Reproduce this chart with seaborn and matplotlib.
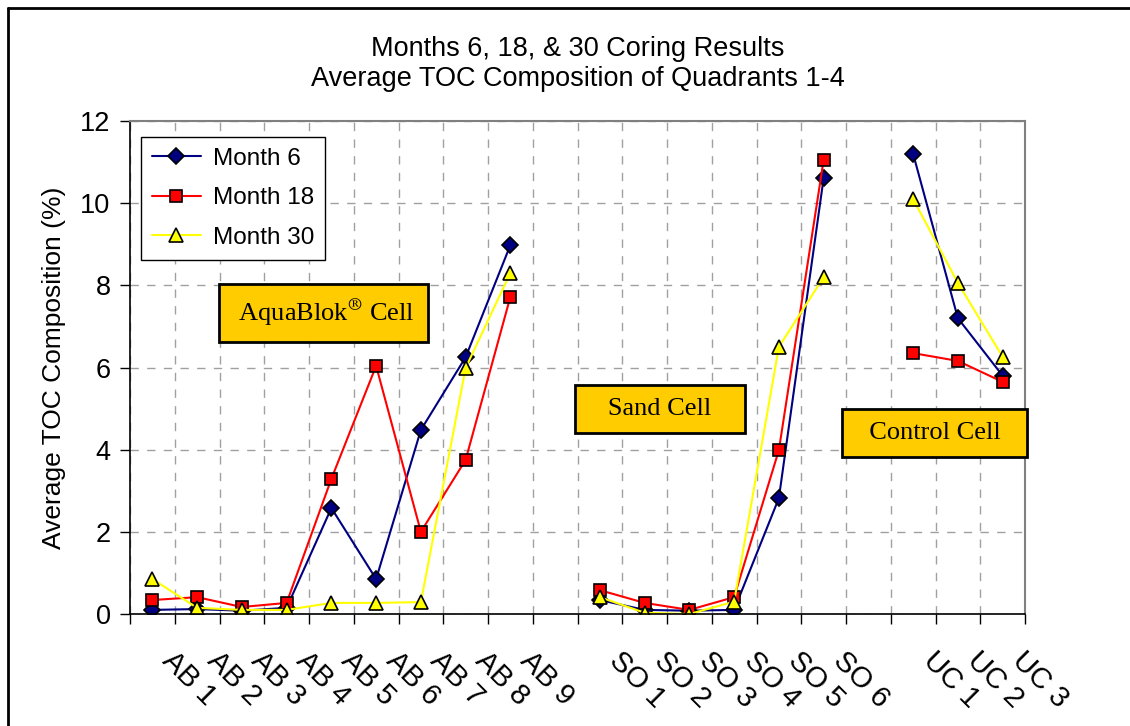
# Months 6, 18 & 30 coring results - average TOC per site
import numpy as np
import pandas as pd
import matplotlib
matplotlib.use("Agg")
import matplotlib.pyplot as plt
import seaborn as sns
from matplotlib.lines import Line2D
from matplotlib.transforms import ScaledTranslation

nan = np.nan

# Site labels (blank slots separate the three cells)
sites = ["AB 1", "AB 2", "AB 3", "AB 4", "AB 5", "AB 6", "AB 7", "AB 8", "AB 9", "",
         "SO 1", "SO 2", "SO 3", "SO 4", "SO 5", "SO 6", "",
         "UC 1", "UC 2", "UC 3"]

month_6 = [0.10, 0.12, 0.08, 0.15, 2.58, 0.85, 4.48, 6.25, 8.98, nan,
           0.34, 0.10, 0.08, 0.10, 2.82, 10.61, nan,
           11.20, 7.20, 5.80]
month_18 = [0.34, 0.41, 0.17, 0.27, 3.29, 6.04, 2.00, 3.75, 7.72, nan,
            0.58, 0.27, 0.10, 0.41, 3.99, 11.05, nan,
            6.35, 6.16, 5.65]
month_30 = [0.85, 0.15, 0.10, 0.10, 0.27, 0.27, 0.29, 5.99, 8.30, nan,
            0.41, 0.03, 0.00, 0.30, 6.50, 8.20, nan,
            10.10, 8.06, 6.26]

series_names = ["Month 6", "Month 18", "Month 30"]
series_colors = ["#000080", "#FF0000", "#FFFF00"]
series_markers = ["D", "s", "^"]
cell_labels = ["AquaBlok$^{\\circledR}$ Cell", "Sand Cell", "Control Cell"]

# Long table for seaborn
rows = []
for name, vals in zip(series_names, [month_6, month_18, month_30]):
    for i, (site, v) in enumerate(zip(sites, vals)):
        if site:
            rows.append({"pos": i, "site": site, "toc": v,
                         "series": name, "cell": site.split()[0]})
df = pd.DataFrame(rows)

sns.set_theme(style="white")
plt.rcParams["font.family"] = ["Liberation Sans", "DejaVu Sans"]
plt.rcParams["mathtext.fontset"] = "stix"
for key in ["text.color", "axes.labelcolor", "xtick.color", "ytick.color"]:
    plt.rcParams[key] = "black"

fig = plt.figure(figsize=(11.3, 7.26), dpi=100)
ax = fig.add_axes([130 / 1130, 112 / 726, 895 / 1130, 493 / 726])

sns.lineplot(data=df, x="pos", y="toc", hue="series", style="series",
             hue_order=series_names, style_order=series_names,
             units="cell", estimator=None, sort=False,
             palette=series_colors, markers=series_markers, dashes=False,
             linewidth=1.5, markeredgecolor="black", markeredgewidth=1.2,
             ax=ax)

msize = {"D": 8, "s": 9, "^": 10.5}
for ln in ax.lines:
    m = ln.get_marker()
    if m in msize:
        ln.set_markersize(msize[m])

# axes
ax.set_xlim(-0.5, len(sites) - 0.5)
ax.set_ylim(0, 12)
ax.set_yticks(np.arange(0, 13, 2))
ax.set_xticks(np.arange(-0.5, len(sites), 1.0))
ax.set_xticklabels([])

# rotated site labels, drawn as text so they can sit right of the centre
lab_trans = ax.get_xaxis_transform() + ScaledTranslation(
    24 / 100, -32 / 100, fig.dpi_scale_trans)
for i, site in enumerate(sites):
    if site:
        ax.text(i, 0, site, transform=lab_trans, rotation=-45,
                rotation_mode="anchor", ha="left", va="top", fontsize=21,
                clip_on=False)

ax.tick_params(axis="x", which="major", direction="out", length=7,
               width=1, color="black", bottom=True)
ax.tick_params(axis="y", which="major", direction="out", length=7,
               width=1, color="black", labelsize=19.5, pad=7, left=True)

ax.grid(True, which="major", linestyle=(0, (6, 6)), color="#A0A0A0",
        linewidth=1)
ax.set_axisbelow(True)

for side in ["left", "bottom"]:
    ax.spines[side].set_color("black")
    ax.spines[side].set_linewidth(1.2)
for side in ["top", "right"]:
    ax.spines[side].set_color("#808080")
    ax.spines[side].set_linewidth(1.5)

ax.set_xlabel("")
ax.set_ylabel("Average TOC Composition (%)", fontsize=19, labelpad=10)
ax.set_title("Months 6, 18, & 30 Coring Results\n"
             "Average TOC Composition of Quadrants 1-4",
             fontsize=19.5, pad=25, linespacing=1.2)

# legend
old = ax.get_legend()
handles = old.legend_handles
labels = [t.get_text() for t in old.get_texts()]
old.remove()
for h in handles:
    h.set_markeredgecolor("black")
    h.set_markeredgewidth(1.2)
    m = h.get_marker()
    if m in msize:
        h.set_markersize(msize[m])
    h.set_linewidth(1.5)
leg = ax.legend(handles, labels, loc="upper left",
                bbox_to_anchor=(0.0123, 0.9675), borderaxespad=0,
                fontsize=17.5, frameon=True, fancybox=False, framealpha=1,
                edgecolor="black", handlelength=2.0, handletextpad=0.5,
                labelspacing=0.72, borderpad=0.45)
leg.get_frame().set_linewidth(1.0)

# cell annotations
box = dict(boxstyle="square,pad=0.5", facecolor="#FFCC00",
           edgecolor="black", linewidth=2)
ann_pos = [(0.216, 0.611), (0.592, 0.416), (0.899, 0.367)]
pads = [" ", "   ", "  "]
for txt, (x, y), p in zip(cell_labels, ann_pos, pads):
    ax.text(x, y, p + txt + p, transform=ax.transAxes, ha="center",
            va="center", fontsize=19, family="Liberation Serif",
            bbox=box, clip_on=False, zorder=5)

# outer chart border (left and top visible)
fig.add_artist(Line2D([8 / 1130, 8 / 1130], [0, 1 - 8 / 726],
                      transform=fig.transFigure, color="black", lw=2))
fig.add_artist(Line2D([8 / 1130, 1], [1 - 8 / 726, 1 - 8 / 726],
                      transform=fig.transFigure, color="black", lw=2))

fig.savefig("out.png", dpi=100)
